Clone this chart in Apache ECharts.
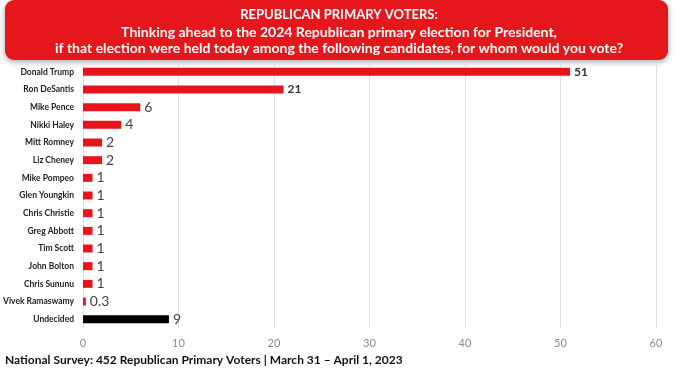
<!DOCTYPE html>
<html><head><meta charset="utf-8">
<script src="https://cdn.jsdelivr.net/npm/echarts@6/dist/echarts.min.js"></script>
<style>html,body{margin:0;padding:0;background:#fff}#c{width:679px;height:368px}</style>
</head><body><div id="c"></div>
<script>
const categories = ['Donald Trump','Ron DeSantis','Mike Pence','Nikki Haley','Mitt Romney','Liz Cheney','Mike Pompeo','Glen Youngkin','Chris Christie','Greg Abbott','Tim Scott','John Bolton','Chris Sununu','Vivek Ramaswamy','Undecided'];
const values = [51,21,6,4,2,2,1,1,1,1,1,1,1,0.3,9];
const xTicks = [0,10,20,30,40,50,60];
const titleLines = ['REPUBLICAN PRIMARY VOTERS:','Thinking ahead to the 2024 Republican primary election for President,','if that election were held today among the following candidates, for whom would you vote?'];
const footer = 'National Survey: 452 Republican Primary Voters | March 31 \u2013 April 1, 2023';

const chart = echarts.init(document.getElementById('c'));
const data = values.map((v,i)=>({
  value: v,
  itemStyle: {color: categories[i]==='Undecided' ? '#000000' : '#e8141b'},
  label: v >= 20 ? {fontSize: 12, fontWeight: 'bold', color: '#333'} : {fontSize: 14, color: '#444'}
}));
chart.setOption({
  animation: false,
  grid: {left: 83, right: 23, top: 63, bottom: 40},
  xAxis: {type: 'value', min: 0, max: 60, interval: 10,
    axisLine: {show: false}, axisTick: {show: false},
    splitLine: {lineStyle: {color: '#e0e0e0'}},
    axisLabel: {color: '#8a8a8a', fontSize: 11, fontFamily: 'Lato', margin: 10}},
  yAxis: {type: 'category', data: categories, inverse: true,
    axisLine: {show: false}, axisTick: {show: false},
    axisLabel: {color: '#222', fontSize: 8.5, fontWeight: 'bold', fontFamily: 'Lato', margin: 9}},
  series: [{type: 'bar', data: data, barWidth: 8,
    label: {show: true, position: 'right', distance: 4, fontFamily: 'Lato'}}],
  graphic: [
    {type: 'rect', shape: {x: 5, y: 0, width: 663, height: 60, r: 9},
     style: {fill: '#e5161c', shadowBlur: 6, shadowColor: 'rgba(0,0,0,0.35)', shadowOffsetY: 2}},
    {type: 'text', x: 339, y: 15, style: {text: titleLines[0], fill: '#fff', font: 'bold 13px Lato', align: 'center', verticalAlign: 'middle'}},
    {type: 'text', x: 339, y: 32, style: {text: titleLines[1], fill: '#fff', font: 'bold 14px Lato', align: 'center', verticalAlign: 'middle'}},
    {type: 'text', x: 339, y: 48, style: {text: titleLines[2], fill: '#fff', font: 'bold 14px Lato', align: 'center', verticalAlign: 'middle'}},
    {type: 'text', x: 5, y: 360, style: {text: footer, fill: '#111', font: 'bold 12px Lato', align: 'left', verticalAlign: 'middle'}}
  ]
});
</script></body></html>
